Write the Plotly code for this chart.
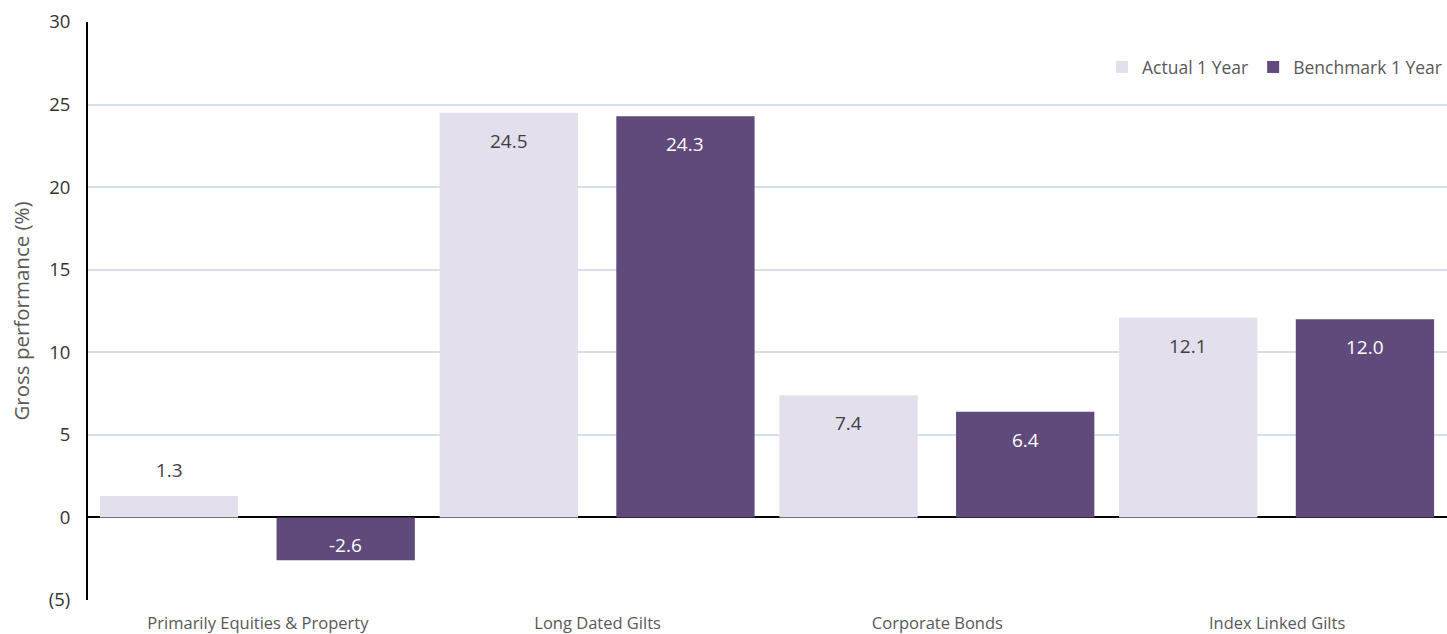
import plotly.graph_objects as go

categories = ["Primarily Equities & Property", "Long Dated Gilts", "Corporate Bonds", "Index Linked Gilts"]
actual_1y = [1.3, 24.5, 7.4, 12.1]
benchmark_1y = [-2.6, 24.3, 6.4, 12.0]
y_tick_values = [-5, 0, 5, 10, 15, 20, 25, 30]
y_tick_labels = ["(5)", "0", "5", "10", "15", "20", "25", "30"]

LIGHT = "#E4DFEC"
DARK = "#604A7B"
FONT = "Open Sans, Noto Sans, sans-serif"

BAR_W = 0.407
OFF_A = -0.465
OFF_B = 0.055

idx = list(range(len(categories)))

fig = go.Figure()
fig.add_trace(go.Bar(
    x=idx, y=actual_1y, name="Actual 1 Year",
    marker=dict(color=LIGHT, line=dict(width=0)),
    width=BAR_W, offset=OFF_A,
))
fig.add_trace(go.Bar(
    x=idx, y=benchmark_1y, name="Benchmark 1 Year",
    marker=dict(color=DARK, line=dict(width=0)),
    width=BAR_W, offset=OFF_B,
))

# value labels: inside near the bar end, above the bar when it is too short
def add_labels(values, offset, inside_color):
    for i, v in enumerate(values):
        xc = i + offset + BAR_W / 2
        if 0 <= v < 3:
            shift, color = 26, "#404040"
        elif v >= 0:
            shift, color = -28, inside_color
        else:
            shift, color = 15, inside_color
        fig.add_annotation(x=xc, y=v, text=f"{v:.1f}", showarrow=False,
                           yshift=shift, font=dict(size=19, color=color, family=FONT))

add_labels(actual_1y, OFF_A, "#404040")
add_labels(benchmark_1y, OFF_B, "#FFFFFF")

fig.update_layout(
    width=1447, height=634,
    margin=dict(l=88, r=0, t=22, b=34),
    paper_bgcolor="white", plot_bgcolor="white",
    barmode="overlay",
    showlegend=True,
    legend=dict(orientation="h", x=1.0, xanchor="right", y=0.922, yanchor="middle",
                font=dict(size=17.5, color="#595959", family=FONT),
                itemwidth=30, bgcolor="rgba(0,0,0,0)"),
    font=dict(family=FONT),
)
fig.update_xaxes(
    range=[-0.5, len(categories) - 0.5],
    tickvals=idx, ticktext=categories,
    tickfont=dict(size=16.5, color="#595959", family=FONT),
    showgrid=False, zeroline=False, showline=False, ticks="",
    ticklabelstandoff=11,
)
fig.update_yaxes(
    range=[-5, 30],
    tickvals=y_tick_values, ticktext=y_tick_labels,
    tickfont=dict(size=18.5, color="#333333", family=FONT),
    title=dict(text="Gross performance (%)", font=dict(size=20.5, color="#595959", family=FONT), standoff=14),
    showgrid=True, gridcolor="#D5DFEE", gridwidth=2,
    zeroline=True, zerolinecolor="#000000", zerolinewidth=2,
    showline=True, linecolor="#000000", linewidth=2,
    ticks="", ticklabelstandoff=12,
)

fig.write_html("out.html")
